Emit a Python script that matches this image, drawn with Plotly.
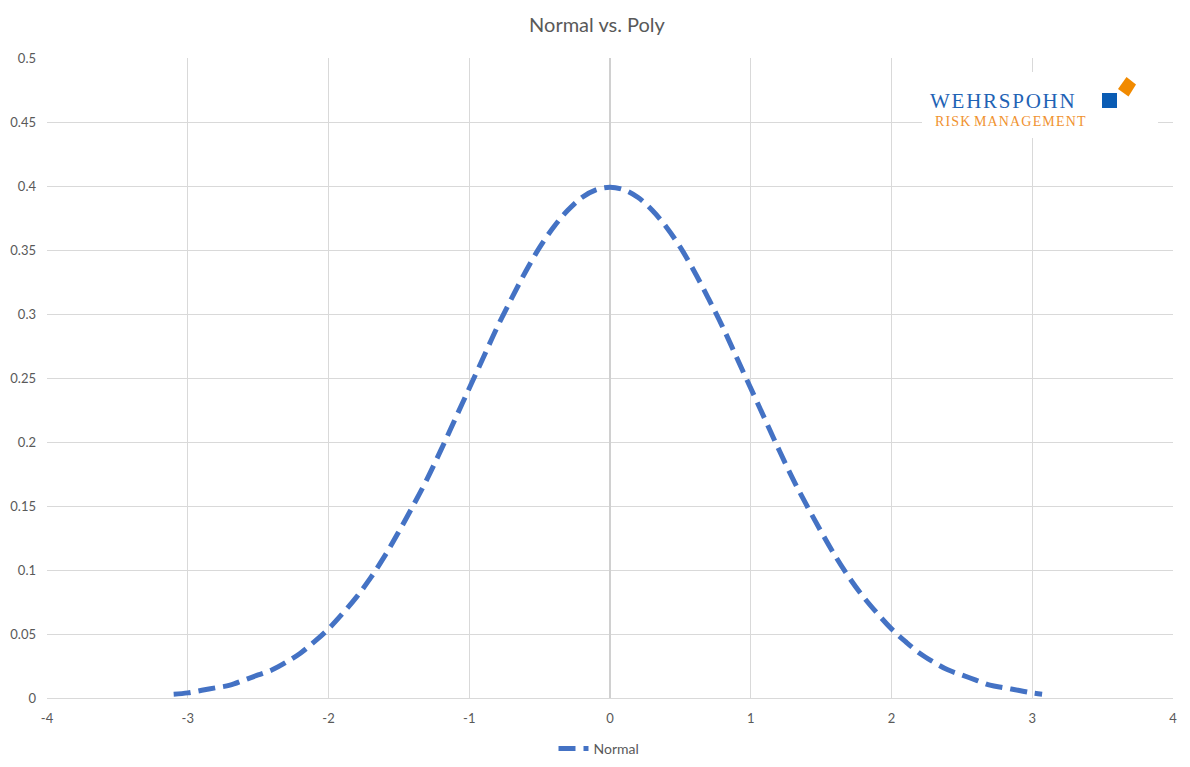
import plotly.graph_objects as go

# Data (standard normal density)
x_vals = [-3.1, -3.0, -2.9, -2.8, -2.7, -2.6, -2.5, -2.4, -2.3, -2.2, -2.1,
          -2.0, -1.9, -1.8, -1.7, -1.6, -1.5, -1.4, -1.3, -1.2, -1.1,
          -1.0, -0.9, -0.8, -0.7, -0.6, -0.5, -0.4, -0.3, -0.2, -0.1,
          0.0, 0.1, 0.2, 0.3, 0.4, 0.5, 0.6, 0.7, 0.8, 0.9,
          1.0, 1.1, 1.2, 1.3, 1.4, 1.5, 1.6, 1.7, 1.8, 1.9,
          2.0, 2.1, 2.2, 2.3, 2.4, 2.5, 2.6, 2.7, 2.8, 2.9, 3.0, 3.07]
normal_vals = [0.003, 0.004, 0.006, 0.008, 0.010, 0.014, 0.018, 0.022, 0.028, 0.035, 0.044,
               0.054, 0.066, 0.079, 0.094, 0.111, 0.130, 0.150, 0.171, 0.194, 0.218,
               0.242, 0.266, 0.290, 0.312, 0.333, 0.352, 0.368, 0.381, 0.391, 0.397,
               0.399, 0.397, 0.391, 0.381, 0.368, 0.352, 0.333, 0.312, 0.290, 0.266,
               0.242, 0.218, 0.194, 0.171, 0.150, 0.130, 0.111, 0.094, 0.079, 0.066,
               0.054, 0.044, 0.035, 0.028, 0.022, 0.018, 0.014, 0.010, 0.008, 0.006, 0.004, 0.003]
x_tick_vals = [-4, -3, -2, -1, 0, 1, 2, 3, 4]
x_tick_text = ["-4", "-3", "-2", "-1", "0", "1", "2", "3", "4"]
y_tick_vals = [0, 0.05, 0.1, 0.15, 0.2, 0.25, 0.3, 0.35, 0.4, 0.45, 0.5]
y_tick_text = ["0", "0.05", "0.1", "0.15", "0.2", "0.25", "0.3", "0.35", "0.4", "0.45", "0.5"]
series_name = "Normal"
chart_title = "Normal vs. Poly"

OFF = 8  # page body margin
W, H = 1190 - OFF, 767 - OFF
# plot area in page pixels
PL, PR, PT, PB = 47, 1173, 58, 698
L, R, T, B = PL - OFF, PR - OFF, PT - OFF, PB - OFF

def px(xp):
    return (xp - PL) / (PR - PL)

def py(yp):
    return (PB - yp) / (PB - PT)

fig = go.Figure()
fig.add_trace(go.Scatter(
    x=x_vals, y=normal_vals, name=series_name, mode="lines",
    line=dict(color="#4472C4", width=5, dash="17px,8px", shape="spline"),
))

grid = "#D9D9D9"
tickfont = dict(family="Lato, Open Sans, sans-serif", size=13, color="#595959")

fig.update_layout(
    width=W, height=H,
    paper_bgcolor="white", plot_bgcolor="white",
    margin=dict(l=L, r=W - R, t=T, b=H - B, autoexpand=False),
    title=dict(text=chart_title, x=px(597) * (R - L) / W + L / W, xanchor="center",
               y=1 - (25 - OFF) / H, yanchor="middle",
               font=dict(family="Lato, Open Sans, sans-serif", size=20, color="#595959")),
    xaxis=dict(range=[-4, 4], tickvals=x_tick_vals, ticktext=x_tick_text,
               showgrid=True, gridcolor=grid, gridwidth=1, automargin=False,
               zeroline=True, zerolinecolor="#D0D0D0", zerolinewidth=1.5,
               showline=True, linecolor=grid, linewidth=1, ticks="", tickfont=tickfont,
               ticklabelstandoff=8),
    yaxis=dict(range=[0, 0.5], tickvals=y_tick_vals, ticktext=y_tick_text,
               showgrid=True, gridcolor=grid, gridwidth=1, automargin=False,
               zeroline=False, showline=False, ticks="", tickfont=tickfont,
               ticklabelstandoff=10),
    showlegend=True,
    legend=dict(orientation="h", x=px(599), xanchor="center", y=-(749 - PB) / (PB - PT), yanchor="middle",
                font=dict(family="Lato, Open Sans, sans-serif", size=14, color="#595959")),
)

# Logo (white backing box, text and squares)
shapes = [
    dict(type="rect", xref="paper", yref="paper", x0=px(922), x1=px(1158), y0=py(138), y1=py(72),
         fillcolor="white", line=dict(width=0), layer="above"),
    dict(type="rect", xref="paper", yref="paper", x0=px(1102), x1=px(1117), y0=py(108), y1=py(93),
         fillcolor="#0A5CB4", line=dict(width=0), layer="above"),
    dict(type="path", xref="paper", yref="paper", layer="above",
         path="M {} {} L {} {} L {} {} L {} {} Z".format(
             px(1126.5), py(77), px(1136), py(84.5), px(1128.5), py(96.5), px(1118), py(89)),
         fillcolor="#F18A00", line=dict(width=0)),
]
fig.update_layout(shapes=shapes)
hs = "\u200a"
logo_top = hs.join("WEHRSPOHN")
logo_bottom = hs.join("RISK") + " " + hs.join("MANAGEMENT")
fig.add_annotation(xref="paper", yref="paper", x=px(1002), y=py(101), text=logo_top,
                   showarrow=False, xanchor="center", yanchor="middle",
                   font=dict(family="Liberation Serif, DejaVu Serif, serif", size=21, color="#1F63B5"))
fig.add_annotation(xref="paper", yref="paper", x=px(1010), y=py(122), text=logo_bottom,
                   showarrow=False, xanchor="center", yanchor="middle",
                   font=dict(family="Liberation Serif, DejaVu Serif, serif", size=14, color="#F0922F"))

fig.write_html("out.html")
